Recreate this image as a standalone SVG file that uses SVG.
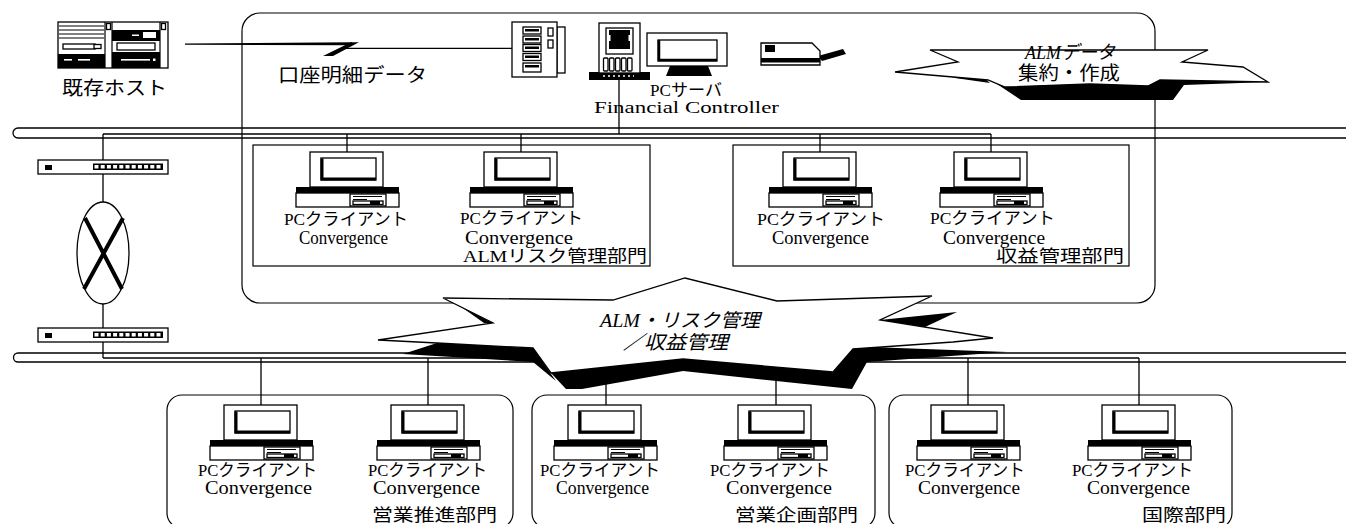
<svg xmlns="http://www.w3.org/2000/svg" xmlns:xlink="http://www.w3.org/1999/xlink" width="1346" height="524" viewBox="0 0 1346 524">
  <style>
    .ln { fill: none; stroke: #000; stroke-width: 1.3; }
    .box { fill: none; stroke: #000; stroke-width: 1.2; }
    .wf { fill: #fff; stroke: #000; stroke-width: 1.3; }
    .blk { fill: #000; stroke: none; }
    .t { font-family: "Liberation Serif", "Noto Sans CJK JP", serif; font-size: 17px; fill: #000; }
    .tc { font-family: "Liberation Serif", "Noto Sans CJK JP", serif; font-size: 18px; fill: #000; }
    .tl { font-family: "Liberation Serif", "Noto Sans CJK JP", serif; font-size: 19px; fill: #000; }
    .ti { font-family: "Liberation Serif", "Noto Sans CJK JP", serif; font-size: 19px; font-style: italic; fill: #000; }
  </style>
  <defs>
    <!-- desktop PC: origin = top centre of the monitor -->
    <g id="pc">
      <rect x="-37" y="0" width="73" height="35" class="wf" stroke-width="1.5"/>
      <rect x="-26" y="6" width="55" height="22" class="wf" stroke-width="1"/>
      <path d="M-25 6.5V27H29" fill="none" stroke="#000" stroke-width="3"/>
      <rect x="-51" y="35" width="103" height="6" class="blk"/>
      <rect x="-51" y="41" width="103" height="14" class="wf" stroke-width="1.2"/>
      <rect x="3" y="42" width="36" height="12" class="wf" stroke-width="1"/>
      <path d="M6 44.5H35M6 47.5H20" stroke="#000" stroke-width="1"/>
      <rect x="6" y="49" width="30" height="3.5" class="wf" stroke-width="0.8"/>
      <rect x="23" y="49" width="10" height="3.5" class="blk"/>
    </g>
    <!-- network hub: origin = top left -->
    <g id="hub">
      <rect x="0" y="0" width="130" height="14" class="wf" stroke-width="1.3"/>
      <rect x="7" y="5" width="7" height="5" class="blk"/>
      <rect x="55" y="3.5" width="70" height="6.5" class="blk"/>
      <line x1="56.5" y1="6.75" x2="124" y2="6.75" stroke="#fff" stroke-width="3.5" stroke-dasharray="4 2.2"/>
    </g>
  </defs>

  <rect width="1346" height="524" fill="#fff"/>

  <!-- ALM management area -->
  <g id="alm-area">
    <rect x="242" y="13" width="913" height="290" rx="18" class="box" stroke-width="1.3"/>
  </g>

  <!-- LAN buses -->
  <g id="lan-upper">
    <path d="M1346 128H18A5 5 0 0 0 18 138H1346" class="ln"/>
  </g>
  <g id="lan-lower">
    <path d="M1346 353H18A4.5 4.5 0 0 0 18 362H1346" class="ln"/>
  </g>

  <!-- connectors -->
  <g id="connectors" class="ln" stroke-width="1.2">
    <path d="M103 134H991"/>
    <path d="M103 358H1139"/>
    <path d="M103 134V160M103 174V202M103 304V328M103 342V358"/>
    <path d="M619 79V134"/>
    <path d="M347 134V152M521 134V152M820 134V152M991 134V152"/>
    <path d="M261 358V405M428 358V405M606 358V405M776 358V405M968 358V405M1139 358V405"/>
    <!-- leased line from the host -->
    <polygon points="185,43.5 352,42.2 352,45.2 185,44.8" class="blk"/>
    <polygon points="323,56 351,42.2 359,42.2 333,56" class="blk"/>
    <path d="M344 48.3H512" stroke-width="1.2"/>
  </g>

  <!-- router between the two LANs -->
  <g id="hub-upper"><use xlink:href="#hub" x="38" y="160"/></g>
  <g id="router">
    <ellipse cx="103" cy="253" rx="26" ry="51" class="wf" stroke-width="1.2"/>
    <path d="M85 218L122 289M123 218L84 289" stroke="#000" stroke-width="4"/>
  </g>
  <g id="hub-lower"><use xlink:href="#hub" x="38" y="328"/></g>

  <!-- existing host -->
  <g id="host">
    <rect x="58" y="22" width="110" height="46" class="wf" stroke-width="1.5"/>
    <path d="M59 26H104M59 30H104M59 34H104M59 38H104" stroke="#000" stroke-width="1"/>
    <rect x="63" y="44" width="32" height="5" class="wf" stroke-width="1"/>
    <rect x="94" y="44.5" width="7" height="4" class="wf" stroke-width="1"/>
    <rect x="58" y="54" width="47" height="14" class="blk"/>
    <rect x="64" y="59" width="8" height="1.6" fill="#fff"/>
    <rect x="78" y="59" width="12" height="1.6" fill="#fff"/>
    <path d="M105 22V68M112 22V68M160 22V68" stroke="#000" stroke-width="1.2"/>
    <rect x="106.5" y="23.5" width="4" height="6" class="wf" stroke-width="1"/>
    <rect x="161.5" y="23.5" width="4" height="6" class="wf" stroke-width="1"/>
    <rect x="112" y="30" width="48" height="11" class="blk"/>
    <rect x="143" y="32" width="13" height="6" fill="#fff"/>
    <rect x="132" y="34.5" width="7" height="1.5" fill="#fff"/>
    <rect x="117" y="43" width="38" height="7" class="wf" stroke-width="1"/>
    <rect x="112" y="52" width="48" height="16" class="blk"/>
    <rect x="121" y="59" width="29" height="1.6" fill="#fff"/>
    <rect x="153" y="58.5" width="2.5" height="2.5" fill="#fff"/>
  </g>

  <!-- rack server -->
  <g id="rack-server">
    <rect x="557" y="27" width="8" height="46" class="wf" stroke-width="1.2"/>
    <rect x="512" y="22" width="45" height="55" class="wf" stroke-width="1.5"/>
    <rect x="523" y="27" width="18" height="7" class="wf" stroke-width="1"/>
    <rect x="523" y="36" width="18" height="7" class="wf" stroke-width="1"/>
    <rect x="523" y="44.5" width="18" height="7" class="wf" stroke-width="1"/>
    <rect x="523" y="53.5" width="18" height="7" class="wf" stroke-width="1"/>
    <rect x="523" y="63" width="18" height="9" class="wf" stroke-width="1"/>
    <rect x="525" y="29" width="14" height="2.5" class="blk"/>
    <rect x="525" y="38" width="14" height="2.5" class="blk"/>
    <rect x="525" y="46.5" width="14" height="2.5" class="blk"/>
    <rect x="525" y="55.5" width="14" height="2.5" class="blk"/>
    <rect x="525" y="65" width="14" height="2.5" class="blk"/>
    <rect x="548" y="28" width="5" height="8" class="wf" stroke-width="1"/>
    <rect x="548" y="40" width="5" height="8" class="wf" stroke-width="1"/>
  </g>

  <!-- PC server -->
  <g id="pc-server">
    <rect x="589" y="72" width="61" height="8" class="blk"/>
    <line x1="603" y1="76" x2="634" y2="76" stroke="#fff" stroke-width="1.5" stroke-dasharray="2 3"/>
    <rect x="599" y="23" width="41" height="50" class="wf" stroke-width="1.5"/>
    <rect x="606" y="28" width="27" height="26" class="wf" stroke-width="1"/>
    <rect x="609" y="30" width="21" height="19" class="blk"/>
    <rect x="607.5" y="35" width="3" height="6" fill="#fff"/>
    <rect x="628.5" y="35" width="3" height="6" fill="#fff"/>
    <rect x="603.5" y="58" width="4.5" height="13" rx="1" class="wf" stroke-width="1"/>
    <rect x="609.5" y="58" width="4.5" height="13" rx="1" class="wf" stroke-width="1"/>
    <rect x="615.5" y="58" width="4.5" height="13" rx="1" class="wf" stroke-width="1"/>
    <rect x="621.5" y="58" width="4.5" height="13" rx="1" class="wf" stroke-width="1"/>
    <rect x="627.5" y="58" width="4.5" height="13" rx="1" class="wf" stroke-width="1"/>
  </g>

  <!-- server monitor -->
  <g id="server-monitor">
    <polygon points="670,66 708,66 712,76 666,76" class="blk"/>
    <rect x="647" y="33" width="80" height="33" class="wf" stroke-width="1.5"/>
    <rect x="658" y="40" width="59" height="21" class="wf" stroke-width="1.2"/>
    <path d="M659 40V60H717" fill="none" stroke="#000" stroke-width="2.5"/>
  </g>

  <!-- printer -->
  <g id="printer">
    <polygon points="818,56 843,49 846,54 822,61" class="blk"/>
    <path d="M761 43H812L820 51V65H761Z" class="wf" stroke-width="1.3"/>
    <rect x="765" y="45" width="10" height="7" class="blk"/>
    <rect x="761" y="58" width="59" height="4.5" class="blk"/>
  </g>

  <!-- ALM data aggregation burst -->
  <g id="burst-alm-data">
    <polygon points="997,84 1021,100 1173,100 1184,85 1268,82 1232,71 1160,80" class="blk"/>
    <polygon points="935,71 984,78 990,83 955,78" class="blk"/>
    <polygon points="895,72 958,62 930,50 1208,50 1182,62 1243,67 1268,82 1160,80 1148,86 1090,84 1005,87 988,80" class="wf" stroke-width="1.2"/>
  </g>

  <!-- ALM risk management department -->
  <g id="dept-alm-risk">
    <rect x="253" y="145" width="397" height="121" class="box"/>
    <use xlink:href="#pc" x="347" y="152"/>
    <use xlink:href="#pc" x="521" y="152"/>
  </g>

  <!-- profit management department -->
  <g id="dept-profit">
    <rect x="733" y="145" width="396" height="121" class="box"/>
    <use xlink:href="#pc" x="820" y="152"/>
    <use xlink:href="#pc" x="991" y="152"/>
  </g>

  <!-- sales promotion department -->
  <g id="dept-sales-promotion">
    <rect x="167" y="395" width="346" height="133" rx="15" class="box"/>
    <use xlink:href="#pc" x="261" y="405"/>
    <use xlink:href="#pc" x="428" y="405"/>
  </g>

  <!-- sales planning department -->
  <g id="dept-sales-planning">
    <rect x="532" y="395" width="343" height="133" rx="15" class="box"/>
    <use xlink:href="#pc" x="605" y="405"/>
    <use xlink:href="#pc" x="775" y="405"/>
  </g>

  <!-- international department -->
  <g id="dept-international">
    <rect x="889" y="395" width="343" height="133" rx="15" class="box"/>
    <use xlink:href="#pc" x="968" y="405"/>
    <use xlink:href="#pc" x="1139" y="405"/>
  </g>

  <!-- ALM / risk / profit management burst -->
  <g id="burst-alm-risk">
    <polygon points="460,306 493,323 484,323" class="blk"/>
    <polygon points="403,354 437,343 533,348 551,374 556,381 533,362" class="blk"/>
    <polygon points="551,373 566,389 582,389 683,371 852,389 867,362 1007,352 843,346 833,372 683,359" class="blk"/>
    <polygon points="443,298 613,300 685,278 777,301 932,296 880,320 993,338 953,342 853,349 833,372 683,359 551,373 533,348 437,343 378,340 493,323" class="wf" stroke-width="1.2"/>
    <polygon points="880,320 957,312 925,327" class="blk"/>
  </g>

  <!-- labels -->
  <g id="labels">
    <text class="tl" x="62" y="95" font-size="20" textLength="105" lengthAdjust="spacingAndGlyphs">既存ホスト</text>
    <text class="tl" x="278" y="82" textLength="149" lengthAdjust="spacingAndGlyphs">口座明細データ</text>
    <text class="t" x="650" y="96" textLength="72" lengthAdjust="spacingAndGlyphs">PCサーバ</text>
    <text class="t" x="594" y="113" textLength="185" lengthAdjust="spacingAndGlyphs">Financial Controller</text>
    <text class="ti" x="1025" y="59" font-size="17" textLength="90" lengthAdjust="spacingAndGlyphs">ALMデータ</text>
    <text class="tl" x="1018" y="80" textLength="102" lengthAdjust="spacingAndGlyphs">集約・作成</text>

    <text class="t" x="284" y="225" textLength="124" lengthAdjust="spacingAndGlyphs">PCクライアント</text>
    <text class="tc" x="299" y="244" textLength="89" lengthAdjust="spacingAndGlyphs">Convergence</text>
    <text class="t" x="460" y="224" textLength="123" lengthAdjust="spacingAndGlyphs">PCクライアント</text>
    <text class="tc" x="465" y="243.5" font-size="17" textLength="108" lengthAdjust="spacingAndGlyphs">Convergence</text>
    <text class="t" x="463" y="262" textLength="184" lengthAdjust="spacingAndGlyphs">ALMリスク管理部門</text>

    <text class="t" x="757" y="225" textLength="128" lengthAdjust="spacingAndGlyphs">PCクライアント</text>
    <text class="tc" x="772" y="244" textLength="97" lengthAdjust="spacingAndGlyphs">Convergence</text>
    <text class="t" x="930" y="224" textLength="125" lengthAdjust="spacingAndGlyphs">PCクライアント</text>
    <text class="tc" x="943" y="243.5" font-size="17" textLength="102" lengthAdjust="spacingAndGlyphs">Convergence</text>
    <text class="t" x="996" y="262" textLength="128" lengthAdjust="spacingAndGlyphs">収益管理部門</text>

    <text class="ti" x="600" y="327" textLength="160" lengthAdjust="spacingAndGlyphs">ALM・リスク管理</text>
    <text class="ti" x="623" y="349" textLength="105" lengthAdjust="spacingAndGlyphs">／収益管理</text>

    <text class="t" x="198" y="476" textLength="119" lengthAdjust="spacingAndGlyphs">PCクライアント</text>
    <text class="tc" x="205" y="494" textLength="107" lengthAdjust="spacingAndGlyphs">Convergence</text>
    <text class="t" x="368" y="476" textLength="119" lengthAdjust="spacingAndGlyphs">PCクライアント</text>
    <text class="tc" x="373" y="494" textLength="107" lengthAdjust="spacingAndGlyphs">Convergence</text>
    <text class="t" x="372" y="521" textLength="125" lengthAdjust="spacingAndGlyphs">営業推進部門</text>

    <text class="t" x="540" y="476" textLength="120" lengthAdjust="spacingAndGlyphs">PCクライアント</text>
    <text class="tc" x="556" y="494" textLength="93" lengthAdjust="spacingAndGlyphs">Convergence</text>
    <text class="t" x="710" y="476" textLength="120" lengthAdjust="spacingAndGlyphs">PCクライアント</text>
    <text class="tc" x="726" y="494" textLength="106" lengthAdjust="spacingAndGlyphs">Convergence</text>
    <text class="t" x="735" y="521" textLength="123" lengthAdjust="spacingAndGlyphs">営業企画部門</text>

    <text class="t" x="905" y="476" textLength="120" lengthAdjust="spacingAndGlyphs">PCクライアント</text>
    <text class="tc" x="918" y="494" textLength="102" lengthAdjust="spacingAndGlyphs">Convergence</text>
    <text class="t" x="1072" y="476" textLength="121" lengthAdjust="spacingAndGlyphs">PCクライアント</text>
    <text class="tc" x="1087" y="494" textLength="103" lengthAdjust="spacingAndGlyphs">Convergence</text>
    <text class="t" x="1142" y="521" textLength="84" lengthAdjust="spacingAndGlyphs">国際部門</text>
  </g>
</svg>
